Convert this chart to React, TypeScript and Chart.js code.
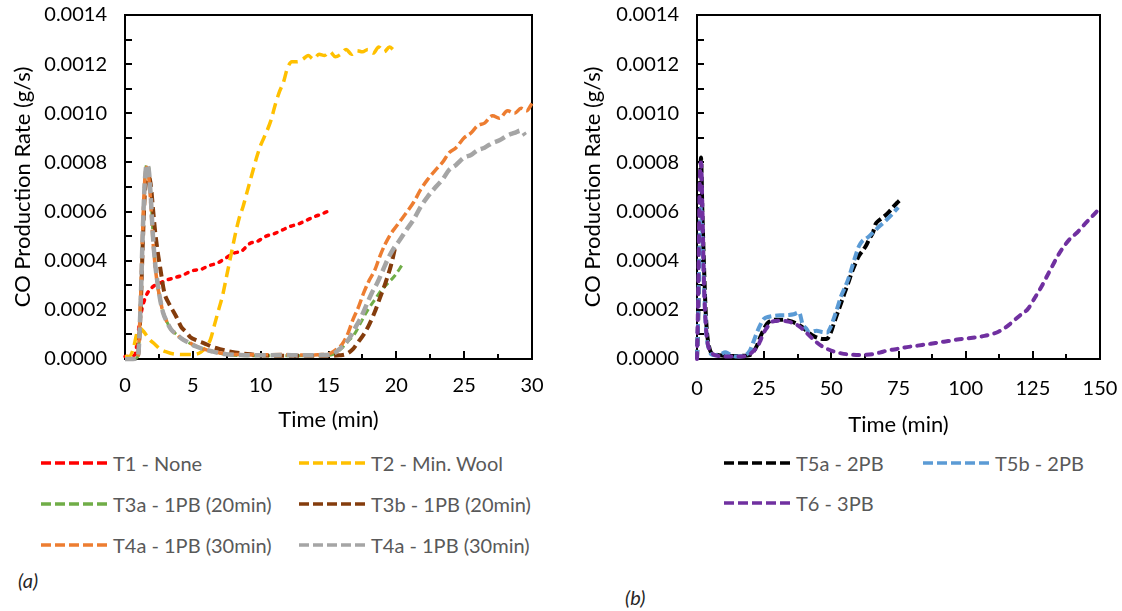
import React, { useEffect, useRef } from 'react';
import { Chart, registerables } from 'chart.js';

Chart.register(...registerables);

const FONT = 'Lato, "Open Sans", sans-serif';

// ---------- axis ticks ----------
const Y_TICKS = [0, 0.0001, 0.0002, 0.0003, 0.0004, 0.0005, 0.0006, 0.0007, 0.0008, 0.0009, 0.001, 0.0011, 0.0012, 0.0013, 0.0014];
const X_TICKS_A = [0, 2.5, 5, 7.5, 10, 12.5, 15, 17.5, 20, 22.5, 25, 27.5, 30];
const X_TICKS_B = [0, 12.5, 25, 37.5, 50, 62.5, 75, 87.5, 100, 112.5, 125, 137.5, 150];

// ---------- series (time in min, CO rate in g/s) ----------
const T1_NONE: [number, number][] = [
  [0, 0.00001], [0.4, 0.00001], [0.75, 0.00002], [1.0, 0.00012], [1.2, 0.00019], [1.5, 0.00025], [1.8, 0.00028],
  [2.2, 0.0003], [2.6, 0.00031], [3.0, 0.00032], [3.6, 0.00033], [4.2, 0.00034], [5.0, 0.00036], [5.6, 0.000365],
  [6.2, 0.00038], [6.8, 0.00039], [7.4, 0.00041], [8.0, 0.00043], [8.6, 0.00044], [9.2, 0.00047], [9.8, 0.00048],
  [10.4, 0.0005], [11.0, 0.00051], [11.6, 0.000525], [12.2, 0.00054], [12.8, 0.00055], [13.4, 0.000565],
  [14.0, 0.00058], [14.5, 0.00059], [14.9, 0.0006],
];

const T2_WOOL: [number, number][] = [
  [0, 0.00001], [0.3, 0.00001], [0.6, 0.00004], [0.9, 0.00011], [1.1, 0.000125], [1.4, 0.00011], [1.8, 0.00008],
  [2.2, 0.00006], [2.6, 0.00004], [3.0, 0.00003], [3.6, 0.00002], [4.3, 0.000018], [5.0, 0.000018], [5.6, 0.000028],
  [6.0, 0.00005], [6.3, 0.00008], [6.6, 0.00014], [6.9, 0.0002], [7.2, 0.00026], [7.5, 0.00034], [7.8, 0.00042],
  [8.1, 0.0005], [8.4, 0.00057], [8.7, 0.00062], [9.0, 0.00068], [9.4, 0.00076], [9.7, 0.00082], [10.0, 0.00087],
  [10.4, 0.00092], [10.75, 0.00097], [11.1, 0.00104], [11.4, 0.00109], [11.7, 0.00113], [11.95, 0.00118],
  [12.3, 0.00121], [12.7, 0.00121], [13.1, 0.00122], [13.5, 0.001235], [13.9, 0.00122], [14.3, 0.00124],
  [14.7, 0.001235], [15.1, 0.00125], [15.5, 0.00123], [15.9, 0.00124], [16.3, 0.00126], [16.7, 0.00124],
  [17.1, 0.001255], [17.5, 0.00125], [17.9, 0.00126], [18.3, 0.001245], [18.7, 0.00127], [19.1, 0.00125],
  [19.5, 0.00127], [19.75, 0.00126], [20.0, 0.001245],
];

const T3A_1PB: [number, number][] = [
  [0, 0], [0.6, 0], [0.95, 0.00001], [1.15, 0.00022], [1.3, 0.0005], [1.45, 0.00072], [1.6, 0.00079], [1.75, 0.00078],
  [1.9, 0.00067], [2.05, 0.00052], [2.2, 0.0004], [2.4, 0.0003], [2.6, 0.00024], [2.8, 0.00019], [3.1, 0.00015],
  [3.4, 0.00012], [3.8, 0.0001], [4.2, 0.000082], [4.7, 0.000066], [5.2, 0.000052], [5.8, 0.00004], [6.5, 0.00003],
  [7.3, 0.00002], [8.5, 0.000014], [10, 0.000013], [11.5, 0.000013], [13, 0.000013], [14.5, 0.000014],
  [15.4, 0.00002], [15.9, 0.00004], [16.4, 0.00007], [16.9, 0.0001], [17.4, 0.00015], [17.9, 0.0002],
  [18.4, 0.00024], [18.9, 0.00028], [19.4, 0.00031], [19.9, 0.00034], [20.4, 0.00038],
];

const T3B_1PB: [number, number][] = [
  [0, 0], [0.6, 0], [0.95, 0.00001], [1.15, 0.0002], [1.3, 0.00045], [1.45, 0.00066], [1.6, 0.00073], [1.75, 0.00074],
  [1.9, 0.00071], [2.05, 0.00062], [2.2, 0.00053], [2.4, 0.00044], [2.6, 0.00037], [2.9, 0.00027], [3.2, 0.00023],
  [3.5, 0.0002], [3.8, 0.00017], [4.15, 0.00013], [4.5, 0.00011], [4.8, 0.00009], [5.3, 0.000075], [5.8, 0.000065],
  [6.4, 0.00005], [7.0, 0.00004], [7.8, 0.00003], [9, 0.00002], [10.5, 0.000014], [12, 0.000013], [13.5, 0.000013],
  [15, 0.000013], [15.8, 0.000015], [16.3, 0.00002], [16.8, 0.00004], [17.2, 0.00007], [17.6, 0.0001],
  [18.0, 0.00014], [18.4, 0.00019], [18.8, 0.00025], [19.2, 0.00031], [19.6, 0.00038], [19.9, 0.00045],
];

const T4A_1PB: [number, number][] = [
  [0, 0], [0.6, 0], [0.95, 0.00001], [1.15, 0.00025], [1.3, 0.00052], [1.45, 0.00072], [1.6, 0.00078], [1.75, 0.00074],
  [1.9, 0.00063], [2.05, 0.00049], [2.2, 0.00039], [2.4, 0.0003], [2.6, 0.00024], [2.8, 0.00019], [3.1, 0.00015],
  [3.4, 0.00012], [3.8, 0.0001], [4.2, 0.000082], [4.7, 0.000068], [5.2, 0.000054], [5.8, 0.00004], [6.5, 0.00003],
  [7.3, 0.000022], [8.5, 0.000018], [10, 0.000017], [11.5, 0.000018], [13, 0.000016], [14.5, 0.000018],
  [15.2, 0.000025], [15.6, 0.00004], [16.0, 0.00006], [16.4, 0.0001], [16.8, 0.00016], [17.2, 0.00021],
  [17.6, 0.00027], [18.0, 0.00032], [18.4, 0.00036], [18.8, 0.00042], [19.2, 0.00047], [19.6, 0.00051],
  [20.0, 0.00054], [20.4, 0.00057], [20.8, 0.0006], [21.3, 0.00064], [21.8, 0.00069], [22.3, 0.00073],
  [22.9, 0.00077], [23.4, 0.0008], [23.9, 0.00084], [24.4, 0.00086], [25.0, 0.0009], [25.5, 0.00092],
  [26.0, 0.00095], [26.5, 0.00096], [27.1, 0.00099], [27.6, 0.00098], [28.2, 0.00101], [28.7, 0.001],
  [29.2, 0.00102], [29.6, 0.00101], [30.0, 0.00104],
];

const T4B_1PB: [number, number][] = [
  [0, 0], [0.6, 0], [0.95, 0.00001], [1.15, 0.00022], [1.3, 0.0005], [1.45, 0.00071], [1.6, 0.00079], [1.75, 0.00077],
  [1.9, 0.00066], [2.05, 0.00051], [2.2, 0.0004], [2.4, 0.00031], [2.6, 0.00024], [2.8, 0.00019], [3.1, 0.00015],
  [3.4, 0.00012], [3.8, 0.0001], [4.2, 0.000082], [4.7, 0.000066], [5.2, 0.000052], [5.8, 0.00004], [6.5, 0.00003],
  [7.3, 0.00002], [8.5, 0.000016], [10, 0.000015], [11.5, 0.000016], [13, 0.000015], [14.5, 0.000016],
  [15.3, 0.00002], [15.8, 0.00004], [16.2, 0.00006], [16.6, 0.00009], [17.0, 0.00013], [17.4, 0.00017],
  [17.8, 0.00022], [18.2, 0.00027], [18.6, 0.00031], [19.0, 0.00036], [19.4, 0.00041], [19.8, 0.00045],
  [20.2, 0.00048], [20.8, 0.00053], [21.3, 0.00057], [21.8, 0.00062], [22.3, 0.00066], [22.9, 0.0007],
  [23.4, 0.00073], [23.9, 0.00077], [24.4, 0.00079], [25.0, 0.00082], [25.5, 0.00083], [26.0, 0.00085],
  [26.5, 0.00086], [27.1, 0.00088], [27.6, 0.00089], [28.2, 0.00091], [28.7, 0.00092], [29.2, 0.00093],
  [29.5, 0.00091],
];

const T5A_2PB: [number, number][] = [
  [0, 0], [0.5, 0.0002], [1.0, 0.0006], [1.5, 0.00082], [2.0, 0.0006], [2.6, 0.00038], [3.2, 0.0002], [3.7, 0.00011],
  [4.5, 0.00005], [5.2, 0.000027], [7, 0.000018], [9.2, 0.000014], [12, 0.000012], [14.4, 0.000012], [17, 0.000013],
  [19.7, 0.000016], [21, 0.00003], [22.3, 0.000054], [23.6, 0.00009], [24.9, 0.000122], [26.2, 0.000145],
  [27.5, 0.000156], [29.5, 0.00016], [31.4, 0.00016], [33.5, 0.000158], [35.4, 0.000152], [37.4, 0.000142],
  [39.3, 0.000129], [41.3, 0.00011], [43.2, 0.000095], [45.2, 0.000085], [47.2, 0.000081], [48.5, 0.000083],
  [49.8, 0.000108], [51.1, 0.00015], [52.4, 0.00019], [53.7, 0.00023], [55, 0.000271], [56.3, 0.00031],
  [57.6, 0.000352], [59, 0.00039], [60.3, 0.00042], [61.6, 0.00044], [62.9, 0.000461], [64.2, 0.00049],
  [65.5, 0.000515], [66.5, 0.00055], [67.5, 0.000562], [69, 0.000575], [70.7, 0.00059], [72, 0.000605],
  [73.4, 0.000623], [74.4, 0.000635], [75.3, 0.000644],
];

const T5B_2PB: [number, number][] = [
  [0, 0], [0.5, 0.0002], [1.0, 0.0005], [1.5, 0.00062], [2.0, 0.0005], [2.6, 0.0003], [3.2, 0.00015], [3.7, 0.00008],
  [4.5, 0.00004], [5.2, 0.00002], [7, 0.000015], [9, 0.00002], [10.5, 0.000027], [12, 0.00002], [14.4, 0.00001],
  [17, 0.000012], [19.7, 0.000034], [21, 0.00007], [22.3, 0.000108], [23.6, 0.00014], [24.9, 0.000163],
  [26.8, 0.000172], [28.8, 0.000176], [31.4, 0.000178], [34.1, 0.000179], [36, 0.000182], [38, 0.00019],
  [39.3, 0.000142], [40.6, 0.000125], [41.9, 0.000108], [43.2, 0.000112], [44.5, 0.000115], [46.5, 0.00011],
  [48.5, 0.000108], [49.5, 0.000125], [50.4, 0.000149], [52, 0.0002], [53.7, 0.000258], [55, 0.00029],
  [56.3, 0.000325], [57.6, 0.00037], [59, 0.00042], [60.3, 0.00046], [61.6, 0.000481], [62.9, 0.00049],
  [64.2, 0.000501], [66, 0.00052], [68.1, 0.000542], [70, 0.00056], [72.1, 0.000583], [73.5, 0.0006],
  [74.9, 0.000617],
];

const T6_3PB: [number, number][] = [
  [0, 0], [0.5, 0.0003], [1.0, 0.0007], [1.5, 0.0008], [2.0, 0.00062], [2.6, 0.00031], [3.2, 0.00015], [3.9, 0.000068],
  [4.8, 0.000035], [5.9, 0.00002], [8, 0.000012], [10.5, 0.00001], [13, 0.00001], [15.7, 0.00001], [18, 0.000012],
  [19.7, 0.00002], [21, 0.000032], [22.3, 0.000047], [23.6, 0.000075], [24.9, 0.000108], [26.2, 0.00013],
  [27.5, 0.000149], [29.5, 0.000155], [31.4, 0.000156], [34, 0.000152], [36.7, 0.000142], [38.6, 0.000128],
  [40.6, 0.000108], [42.5, 0.000088], [44.5, 0.000068], [46.5, 0.000052], [48.5, 0.000041], [51, 0.00003],
  [53.7, 0.000023], [57, 0.000018], [60.3, 0.000016], [63, 0.000017], [65.5, 0.00002], [68, 0.000026],
  [70.7, 0.000034], [74, 0.00004], [77.3, 0.000047], [80.5, 0.000052], [83.8, 0.000057], [87, 0.000062],
  [90.4, 0.000068], [93.5, 0.000073], [96.9, 0.000079], [100, 0.000083], [103.5, 0.000088], [107, 0.000094],
  [110, 0.000102], [112, 0.00011], [114, 0.000122], [116, 0.000138], [117.9, 0.000156], [120.5, 0.00018],
  [123.1, 0.000203], [125.8, 0.00025], [128.4, 0.000298], [130.4, 0.00034], [132.3, 0.000379], [134.3, 0.00042],
  [136.3, 0.000454], [138.9, 0.00049], [141.5, 0.000515], [144, 0.000545], [146.7, 0.000576], [148.5, 0.000597],
  [150, 0.000617],
];

type Series = { label: string; color: string; dash: number[]; width: number; cap: string; data: [number, number][] };

const SERIES_A: Series[] = [
  { label: 'T1 - None', color: '#FF0000', dash: [3, 6], width: 3.5, cap: 'round', data: T1_NONE },
  { label: 'T2 - Min. Wool', color: '#FFC000', dash: [11, 6], width: 3.5, cap: 'butt', data: T2_WOOL },
  { label: 'T3a - 1PB (20min)', color: '#70AD47', dash: [7, 4], width: 3, cap: 'butt', data: T3A_1PB },
  { label: 'T3b - 1PB (20min)', color: '#843C0C', dash: [10, 5], width: 4, cap: 'butt', data: T3B_1PB },
  { label: 'T4a - 1PB (30min)', color: '#ED7D31', dash: [10, 4], width: 3.5, cap: 'butt', data: T4A_1PB },
  { label: 'T4a - 1PB (30min)', color: '#A5A5A5', dash: [11, 5], width: 4.5, cap: 'butt', data: T4B_1PB },
];

const SERIES_B: Series[] = [
  { label: 'T5a - 2PB', color: '#000000', dash: [9, 4], width: 4, cap: 'butt', data: T5A_2PB },
  { label: 'T5b - 2PB', color: '#5B9BD5', dash: [9, 4], width: 4, cap: 'butt', data: T5B_2PB },
  { label: 'T6 - 3PB', color: '#7030A0', dash: [6, 7], width: 4, cap: 'round', data: T6_3PB },
];

const framePlugin = {
  id: 'frameTicks',
  beforeDatasetsDraw(chart: any) {
    const { ctx, chartArea } = chart;
    const { left, right, top, bottom } = chartArea;
    const xs = chart.scales.x;
    const ys = chart.scales.y;
    ctx.save();
    ctx.strokeStyle = '#000';
    ctx.lineWidth = 2;
    ctx.setLineDash([]);
    ctx.strokeRect(left, top, right - left, bottom - top);
    ctx.beginPath();
    xs.ticks.forEach((t: any, i: number) => {
      const px = Math.round(xs.getPixelForValue(t.value));
      const len = i % 2 === 0 ? 8 : 5;
      ctx.moveTo(px, bottom);
      ctx.lineTo(px, bottom - len);
    });
    ys.ticks.forEach((t: any) => {
      const py = Math.round(ys.getPixelForValue(t.value));
      ctx.moveTo(left, py);
      ctx.lineTo(left + 7, py);
    });
    ctx.stroke();
    ctx.restore();
  },
};

const zeroPad = (scale: any) => {
  scale.paddingLeft = 0;
  scale.paddingRight = 0;
  scale.paddingTop = 0;
  scale.paddingBottom = 0;
};

type PanelProps = {
  series: Series[];
  xTicks: number[];
  xMax: number;
  yWidth: number;
  padRight: number;
  xLabelPad: number;
  xTitlePad: number;
  left: number;
  width: number;
};

function Panel(p: PanelProps) {
  const ref = useRef<HTMLCanvasElement | null>(null);
  useEffect(() => {
    if (!ref.current) return;
    const n = p.series.length;
    const chart = new Chart(ref.current, {
      type: 'line',
      data: {
        datasets: p.series.map((s, i) => ({
          label: s.label,
          data: s.data.map(([x, y]) => ({ x, y })),
          borderColor: s.color,
          backgroundColor: s.color,
          borderWidth: s.width,
          borderDash: s.dash,
          borderCapStyle: s.cap,
          pointRadius: 0,
          fill: false,
          cubicInterpolationMode: 'monotone',
          clip: false,
          order: n - i,
        })),
      },
      options: {
        animation: false,
        responsive: false,
        maintainAspectRatio: false,
        events: [],
        layout: { padding: { left: 0, right: p.padRight, top: 15, bottom: 0 } },
        plugins: { legend: { display: false }, tooltip: { enabled: false } },
        scales: {
          x: {
            type: 'linear',
            min: 0,
            max: p.xMax,
            afterBuildTicks: (scale: any) => {
              scale.ticks = p.xTicks.map((v) => ({ value: v }));
            },
            afterFit: (scale: any) => {
              scale.height = 81;
              zeroPad(scale);
            },
            grid: { display: false, drawTicks: false },
            border: { display: false },
            ticks: {
              autoSkip: false,
              maxRotation: 0,
              padding: p.xLabelPad,
              color: '#000',
              font: { family: FONT, size: 20 },
              callback: (v: any, i: number) => (i % 2 === 0 ? String(v) : ''),
            },
            title: {
              display: true,
              text: 'Time (min)',
              color: '#000',
              font: { family: FONT, size: 22 },
              padding: { top: 0, bottom: p.xTitlePad },
            },
          },
          y: {
            type: 'linear',
            min: 0,
            max: 0.0014,
            afterBuildTicks: (scale: any) => {
              scale.ticks = Y_TICKS.map((v) => ({ value: v }));
            },
            afterFit: (scale: any) => {
              scale.width = p.yWidth;
              zeroPad(scale);
            },
            grid: { display: false, drawTicks: false },
            border: { display: false },
            ticks: {
              autoSkip: false,
              padding: 18,
              color: '#000',
              font: { family: FONT, size: 20 },
              callback: (v: any, i: number) => (i % 2 === 0 ? Number(v).toFixed(4) : ''),
            },
            title: {
              display: true,
              text: 'CO Production Rate (g/s)',
              color: '#000',
              font: { family: FONT, size: 22 },
              padding: { top: 10, bottom: 0 },
            },
          },
        },
      },
      plugins: [framePlugin],
    } as any);
    return () => chart.destroy();
  }, []);
  return (
    <canvas
      ref={ref}
      width={p.width}
      height={440}
      style={{ position: 'absolute', left: p.left, top: 0, width: p.width, height: 440 }}
    />
  );
}

function LegendItem({ s, x, y }: { s: Series; x: number; y: number }) {
  return (
    <div style={{ position: 'absolute', left: x, top: y - 14, height: 28, display: 'flex', alignItems: 'center', whiteSpace: 'nowrap' }}>
      <svg width={67} height={8} style={{ display: 'block' }}>
        <line x1={0} y1={4} x2={67} y2={4} stroke={s.color} strokeWidth={3.5} strokeDasharray="10 4" />
      </svg>
      <span style={{ marginLeft: 5, fontFamily: FONT, fontSize: 20, color: '#595959' }}>{s.label}</span>
    </div>
  );
}

export default function App() {
  const legA = [
    { x: 41, y: 463 }, { x: 299, y: 463 },
    { x: 41, y: 504 }, { x: 299, y: 504 },
    { x: 41, y: 545 }, { x: 299, y: 545 },
  ];
  const legB = [
    { x: 724, y: 463 }, { x: 923, y: 463 }, { x: 724, y: 503 },
  ];
  return (
    <div style={{ position: 'fixed', left: 0, top: 0, width: 1122, height: 611, background: '#fff', overflow: 'hidden' }}>
      <Panel series={SERIES_A} xTicks={X_TICKS_A} xMax={30} yWidth={125} padRight={28} xLabelPad={15} xTitlePad={7} left={0} width={560} />
      <Panel series={SERIES_B} xTicks={X_TICKS_B} xMax={150} yWidth={127} padRight={22} xLabelPad={18} xTitlePad={2} left={570} width={552} />
      {SERIES_A.map((s, i) => (
        <LegendItem key={'a' + i} s={s} x={legA[i].x} y={legA[i].y} />
      ))}
      {SERIES_B.map((s, i) => (
        <LegendItem key={'b' + i} s={s} x={legB[i].x} y={legB[i].y} />
      ))}
      <div style={{ position: 'absolute', left: 18, top: 568, fontFamily: FONT, fontStyle: 'italic', fontSize: 20, color: '#262626' }}>(a)</div>
      <div style={{ position: 'absolute', left: 625, top: 585, fontFamily: FONT, fontStyle: 'italic', fontSize: 20, color: '#262626' }}>(b)</div>
    </div>
  );
}
